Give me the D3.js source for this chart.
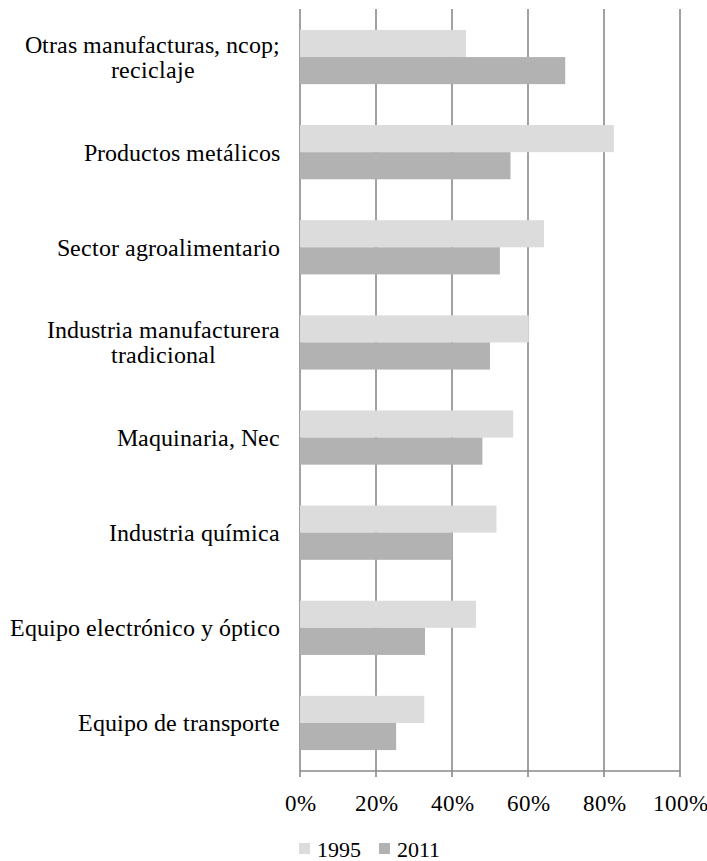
<!DOCTYPE html>
<html>
<head>
<meta charset="utf-8">
<script src="https://cdn.jsdelivr.net/npm/d3@7"></script>
<style>
  @font-face {
    font-family: "ChartSerif";
    src: local("Liberation Serif"), local("LiberationSerif-Regular"), local("Liberation Serif Regular"),
         local("Times New Roman"), local("TimesNewRomanPSMT"), local("DejaVu Serif"), local("DejaVuSerif");
  }
  html, body { margin: 0; padding: 0; background: #fff; }
  svg { display: block; }
  svg text { font-family: "ChartSerif", "Liberation Serif", "Times New Roman", serif; }
</style>
</head>
<body>
<svg id="chart" width="707" height="861"></svg>
<script>
// sectors, top to bottom; "\n" splits a label over two lines
const categories = [
  "Otras manufacturas, ncop;\nreciclaje",
  "Productos metálicos",
  "Sector agroalimentario",
  "Industria manufacturera\ntradicional",
  "Maquinaria, Nec",
  "Industria química",
  "Equipo electrónico y óptico",
  "Equipo de transporte"
];
const seriesNames = ["1995", "2011"];
const values1995 = [0.437, 0.826, 0.642, 0.602, 0.561, 0.517, 0.463, 0.327];
const values2011 = [0.698, 0.554, 0.526, 0.500, 0.480, 0.401, 0.329, 0.253];
const tickValues = [0, 0.2, 0.4, 0.6, 0.8, 1];

const colors = { "1995": "#dcdcdc", "2011": "#b2b2b2" };
const gridColor = "#8a8a8a";

const svg = d3.select("#chart");
const plot = { left: 300, right: 680, top: 9, bottom: 771 };

const x = d3.scaleLinear().domain([0, 1]).range([plot.left, plot.right]);
const y = d3.scaleBand()
  .domain(categories)
  .range([plot.top, plot.bottom])
  .paddingInner(0.43)
  .paddingOuter(0.22);
const ySub = d3.scaleBand().domain(seriesNames).range([0, y.bandwidth()]);

const rows = categories.map((c, i) => ({
  category: c,
  values: [
    { series: "1995", value: values1995[i] },
    { series: "2011", value: values2011[i] }
  ]
}));

// vertical gridlines, running a little past the axis as tick marks
svg.append("g")
  .selectAll("line")
  .data(tickValues)
  .join("line")
  .attr("x1", d => x(d))
  .attr("x2", d => x(d))
  .attr("y1", plot.top)
  .attr("y2", plot.bottom + 6)
  .attr("stroke", gridColor)
  .attr("stroke-width", 1.6);

// bars
const groups = svg.append("g")
  .selectAll("g")
  .data(rows)
  .join("g")
  .attr("transform", d => `translate(0,${y(d.category)})`);

groups.selectAll("rect")
  .data(d => d.values)
  .join("rect")
  .attr("x", x(0))
  .attr("y", d => ySub(d.series))
  .attr("width", d => x(d.value) - x(0))
  .attr("height", ySub.bandwidth())
  .attr("fill", d => colors[d.series]);

// bottom axis
const xAxis = d3.axisBottom(x)
  .tickValues(tickValues)
  .tickFormat(d3.format(".0%"))
  .tickSize(0)
  .tickPadding(24);

const axisG = svg.append("g")
  .attr("transform", `translate(0,${plot.bottom})`)
  .call(xAxis)
  .attr("font-family", null);
axisG.select(".domain")
  .attr("stroke", gridColor)
  .attr("stroke-width", 1.6)
  .attr("d", `M${plot.left},0H${plot.right}`);
axisG.selectAll("text")
  .attr("font-size", 23)
  .attr("fill", "#000");

// category labels: block right-aligned, lines centred within it
const labelRight = 280;
const lineHeight = 25;
const labels = svg.append("g")
  .attr("font-size", 24)
  .attr("fill", "#000");

categories.forEach(c => {
  const lines = c.split("\n");
  const cy = y(c) + y.bandwidth() / 2;
  const t = labels.append("text").attr("text-anchor", "middle");
  lines.forEach((ln, j) => {
    t.append("tspan")
      .attr("y", cy + (j - (lines.length - 1) / 2) * lineHeight)
      .attr("dy", "0.35em")
      .text(ln);
  });
  const widths = [];
  t.selectAll("tspan").each(function () { widths.push(this.getComputedTextLength()); });
  const w = d3.max(widths);
  t.selectAll("tspan").attr("x", labelRight - w / 2);
});

// legend
const legend = svg.append("g")
  .attr("transform", "translate(299,843)")
  .attr("font-size", 22);
const legendStep = [0, 80];
seriesNames.forEach((s, i) => {
  const g = legend.append("g").attr("transform", `translate(${legendStep[i]},0)`);
  g.append("rect").attr("width", 11).attr("height", 11).attr("fill", colors[s]);
  g.append("text").attr("x", 18).attr("y", 13.5).text(s);
});
</script>
</body>
</html>
